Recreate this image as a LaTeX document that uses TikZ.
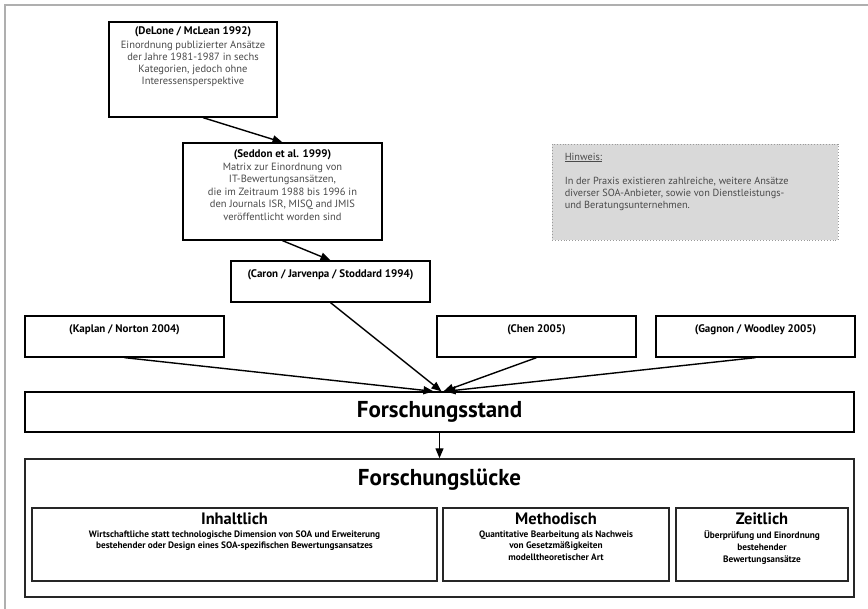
\documentclass[tikz,border=0pt]{standalone}
\usepackage{fontspec}
\setmainfont{PT Sans}
\usetikzlibrary{arrows.meta}
\definecolor{bodygray}{HTML}{4A4A4A}
\definecolor{framegray}{HTML}{AFAFAF}
\definecolor{notefill}{HTML}{D9D9D9}
\definecolor{notedot}{HTML}{9A9A9A}
\begin{document}
\begin{tikzpicture}[x=1bp,y=-1bp,
  box/.style={draw=black, line width=1.3bp, inner sep=0pt, fill=white},
  subbox/.style={draw=black!85, line width=1.5bp, inner sep=0pt, fill=white},
  head/.style={inner sep=0pt, align=center, font=\fontsize{11bp}{12bp}\selectfont\bfseries},
  body/.style={inner sep=0pt, align=center, text=bodygray, font=\fontsize{10.5bp}{12.2bp}\selectfont},
  big/.style={inner sep=0pt, font=\fontsize{23bp}{26bp}\selectfont\bfseries},
  mid/.style={inner sep=0pt, font=\fontsize{16.5bp}{20bp}\selectfont\bfseries},
  small/.style={inner sep=0pt, align=center, font=\fontsize{9.3bp}{11.8bp}\selectfont\bfseries},
  arr/.style={line width=1.4bp, -{Triangle[length=10bp,width=8bp]}}
]
\useasboundingbox (0,0) rectangle (868,609);
% page frame
\draw[framegray, line width=2bp] (5,609) -- (5,5) -- (868,5);

% literature boxes
\node[box, minimum width=168bp, minimum height=95bp] (delone) at (193,69.5) {};
\node[box, minimum width=199bp, minimum height=97bp] (seddon) at (282.5,191.5) {};
\node[box, minimum width=199bp, minimum height=41bp] (caron) at (330.5,281.5) {};
\node[box, minimum width=199bp, minimum height=41bp] (kaplan) at (124.5,336.5) {};
\node[box, minimum width=199bp, minimum height=41bp] (chen) at (536.5,336.5) {};
\node[box, minimum width=199bp, minimum height=41bp] (gagnon) at (755.5,336.5) {};

\node[head, anchor=north] (deloneT) at ([yshift=-5.5bp]delone.north) {(DeLone / McLean 1992)};
\node[body, anchor=north] (deloneB) at ([yshift=-19bp]delone.north)
  {Einordnung publizierter Ansätze\\der Jahre 1981-1987 in sechs\\Kategorien, jedoch ohne\\Interessensperspektive};

\node[head, anchor=north] (seddonT) at ([yshift=-7bp]seddon.north) {(Seddon et al. 1999)};
\node[body, anchor=north, font=\fontsize{10.5bp}{12.5bp}\selectfont] (seddonB) at ([yshift=-20.5bp]seddon.north)
  {Matrix zur Einordnung von\\IT-Bewertungsansätzen,\\die im Zeitraum 1988 bis 1996 in\\den Journals ISR, MISQ and JMIS\\veröffentlicht worden sind};

\node[head, anchor=north] (caronT) at ([yshift=-9bp]caron.north) {(Caron / Jarvenpa / Stoddard 1994)};
\node[head, anchor=north] (kaplanT) at ([yshift=-9bp]kaplan.north) {(Kaplan / Norton 2004)};
\node[head, anchor=north] (chenT) at ([yshift=-9bp]chen.north) {(Chen 2005)};
\node[head, anchor=north] (gagnonT) at ([yshift=-9bp]gagnon.north) {(Gagnon / Woodley 2005)};

% note
\node[draw=notedot, dotted, line width=0.9bp, fill=notefill, inner sep=0pt,
      minimum width=286bp, minimum height=96bp] (note) at (695,192) {};
\node[inner sep=0pt, anchor=north west, align=left, text=bodygray,
      font=\fontsize{10.3bp}{12bp}\selectfont] (noteT) at ([xshift=13bp,yshift=-9bp]note.north west)
  {\underline{Hinweis:}\\[12bp]In der Praxis existieren zahlreiche, weitere Ansätze\\diverser SOA-Anbieter, sowie von Dienstleistungs-\\und Beratungsunternehmen.};

% state of research and gap
\node[box, minimum width=829bp, minimum height=40bp] (stand) at (439.5,412) {};
\node[big] (standT) at (stand.center) {Forschungsstand};

\node[draw=black!85, line width=1.5bp, inner sep=0pt, fill=white,
      minimum width=829bp, minimum height=138bp] (luecke) at (439.5,528) {};
\node[big, anchor=north] (lueckeT) at ([yshift=-10.5bp]luecke.north) {Forschungslücke};

\node[subbox, minimum width=405bp, minimum height=73bp] (inhalt) at (234.5,544.5) {};
\node[subbox, minimum width=226bp, minimum height=73bp] (method) at (556,544.5) {};
\node[subbox, minimum width=172bp, minimum height=73bp] (zeit) at (762,544.5) {};

\node[mid, anchor=north] (inhaltT) at ([yshift=-5.5bp]inhalt.north) {Inhaltlich};
\node[small, anchor=north] (inhaltB) at ([yshift=-23bp]inhalt.north)
  {Wirtschaftliche statt technologische Dimension von SOA und Erweiterung\\bestehender oder Design eines SOA-spezifischen Bewertungsansatzes};
\node[mid, anchor=north] (methodT) at ([yshift=-5.5bp]method.north) {Methodisch};
\node[small, anchor=north] (methodB) at ([yshift=-23bp]method.north)
  {Quantitative Bearbeitung als Nachweis\\von Gesetzmäßigkeiten\\modelltheoretischer Art};
\node[mid, anchor=north] (zeitT) at ([yshift=-5.5bp]zeit.north) {Zeitlich};
\node[small, anchor=north] (zeitB) at ([yshift=-23bp]zeit.north)
  {Überprüfung und Einordnung\\bestehender\\Bewertungsansätze};

% connectors
\draw[arr] ([xshift=10bp]delone.south) -- (seddon.north);
\draw[arr] (seddon.south) -- (caron.north);
\draw[arr] (caron.south) -- ([xshift=2bp]stand.north);
\draw[arr] (kaplan.south) -- ([xshift=-6bp]stand.north);
\draw[arr] (chen.south) -- ([xshift=4bp]stand.north);
\draw[arr] (gagnon.south) -- ([xshift=6bp]stand.north);
\draw[arr] (stand.south) -- (luecke.north);
\end{tikzpicture}
\end{document}
